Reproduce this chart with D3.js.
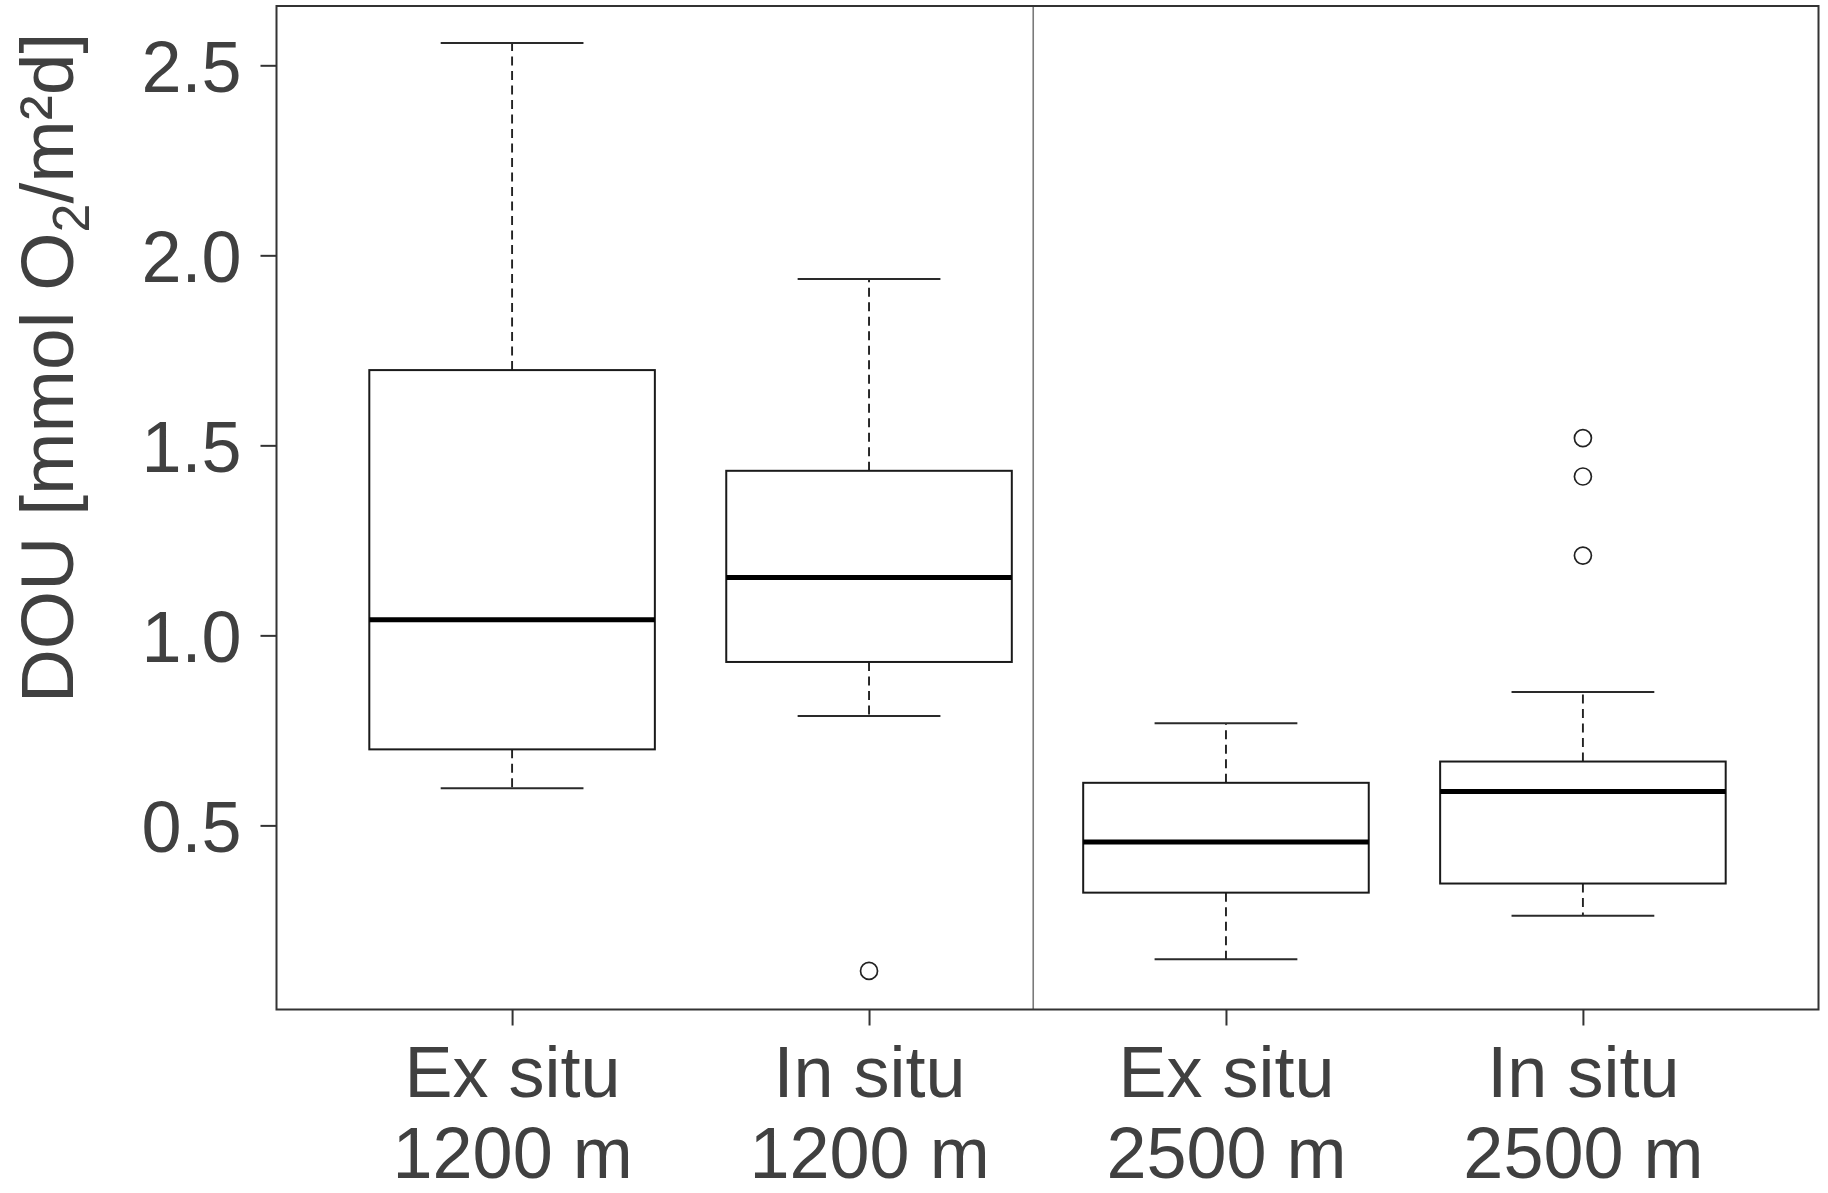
<!DOCTYPE html>
<html>
<head>
<meta charset="utf-8">
<script src="https://cdn.jsdelivr.net/npm/d3@7"></script>
<style>
  html, body { margin: 0; padding: 0; background: #fff; }
  svg { display: block; }
  text { font-family: "Liberation Sans", Arial, Helvetica, sans-serif; fill: #404040; }
</style>
</head>
<body>
<svg id="chart" width="1828" height="1193"></svg>
<script>
// Groups: site depth and measurement method
const methods = ["Ex situ", "In situ", "Ex situ", "In situ"];
const depths = ["1200 m", "1200 m", "2500 m", "2500 m"];

// Five-number summaries per group (mmol O2 / m² / d)
const whiskerLow = [0.598, 0.788, 0.148, 0.262];
const quart1     = [0.700, 0.930, 0.323, 0.347];
const medians    = [1.041, 1.152, 0.456, 0.589];
const quart3     = [1.698, 1.433, 0.612, 0.668];
const whiskerHigh= [2.559, 1.938, 0.769, 0.851];

// Points beyond the whiskers, by group
const outliers = [[], [0.117], [], [1.519, 1.418, 1.210]];

const yTicks = [0.5, 1.0, 1.5, 2.0, 2.5];

const svg = d3.select("#chart");

const frame = { left: 276.5, right: 1818.5, top: 6, bottom: 1009.5 };

// x: group positions 1..4 with a small margin on either side
const x = d3.scaleLinear().domain([0.34, 4.66]).range([frame.left, frame.right]);
// y: value axis
const y = d3.scaleLinear().domain([0, 2.5]).range([1015.4, 65.3]);

const boxHalf = x(1.4) - x(1);   // half of a 0.8-wide box
const capHalf = boxHalf / 2;

const groups = methods.map((m, i) => ({
  i, pos: i + 1,
  lo: whiskerLow[i], q1: quart1[i], med: medians[i], q3: quart3[i], hi: whiskerHigh[i],
  out: outliers[i]
}));

// Separator between the two depths
svg.append("line")
  .attr("x1", x(2.46)).attr("x2", x(2.46))
  .attr("y1", frame.top).attr("y2", frame.bottom)
  .attr("stroke", "#7a7a7a").attr("stroke-width", 1.6);

const g = svg.append("g").selectAll("g").data(groups).join("g");

// Whiskers (dashed) from box edges to the whisker ends
g.append("line")
  .attr("x1", d => x(d.pos)).attr("x2", d => x(d.pos))
  .attr("y1", d => y(d.q3)).attr("y2", d => y(d.hi))
  .attr("stroke", "#222").attr("stroke-width", 1.9)
  .attr("stroke-dasharray", "9,5.5");
g.append("line")
  .attr("x1", d => x(d.pos)).attr("x2", d => x(d.pos))
  .attr("y1", d => y(d.q1)).attr("y2", d => y(d.lo))
  .attr("stroke", "#222").attr("stroke-width", 1.9)
  .attr("stroke-dasharray", "9,5.5");

// Whisker caps
["hi", "lo"].forEach(k => {
  g.append("line")
    .attr("x1", d => x(d.pos) - capHalf).attr("x2", d => x(d.pos) + capHalf)
    .attr("y1", d => y(d[k])).attr("y2", d => y(d[k]))
    .attr("stroke", "#2a2a2a").attr("stroke-width", 2);
});

// Boxes
g.append("rect")
  .attr("x", d => x(d.pos) - boxHalf)
  .attr("width", 2 * boxHalf)
  .attr("y", d => y(d.q3))
  .attr("height", d => y(d.q1) - y(d.q3))
  .attr("fill", "#fff")
  .attr("stroke", "#1a1a1a").attr("stroke-width", 2);

// Medians
g.append("line")
  .attr("x1", d => x(d.pos) - boxHalf).attr("x2", d => x(d.pos) + boxHalf)
  .attr("y1", d => y(d.med)).attr("y2", d => y(d.med))
  .attr("stroke", "#000").attr("stroke-width", 5);

// Outliers
g.selectAll("circle")
  .data(d => d.out.map(v => ({ pos: d.pos, v })))
  .join("circle")
  .attr("cx", d => x(d.pos)).attr("cy", d => y(d.v))
  .attr("r", 8.5)
  .attr("fill", "none").attr("stroke", "#222").attr("stroke-width", 1.7);

// Plot frame
svg.append("rect")
  .attr("x", frame.left).attr("y", frame.top)
  .attr("width", frame.right - frame.left).attr("height", frame.bottom - frame.top)
  .attr("fill", "none").attr("stroke", "#333").attr("stroke-width", 2);

// Y axis
const yAxis = svg.append("g")
  .attr("transform", `translate(${frame.left},0)`)
  .call(d3.axisLeft(y).tickValues(yTicks).tickFormat(d3.format(".1f")).tickSize(16).tickPadding(19));
yAxis.select(".domain").remove();
yAxis.selectAll(".tick line").attr("stroke", "#333").attr("stroke-width", 2);
yAxis.selectAll(".tick text")
  .attr("font-size", 72).attr("fill", "#404040")
  .attr("font-family", "'Liberation Sans', Arial, sans-serif")
  .attr("dy", "0.36em");

// X axis with two-line group labels
const xAxis = svg.append("g")
  .attr("transform", `translate(0,${frame.bottom})`)
  .call(d3.axisBottom(x).tickValues([1, 2, 3, 4]).tickSize(16).tickFormat(""));
xAxis.select(".domain").remove();
xAxis.selectAll(".tick line").attr("stroke", "#333").attr("stroke-width", 2);
xAxis.selectAll(".tick").each(function(d) {
  const t = d3.select(this).append("text")
    .attr("text-anchor", "middle")
    .attr("font-size", 72)
    .attr("fill", "#404040")
    .attr("font-family", "'Liberation Sans', Arial, sans-serif");
  t.append("tspan").attr("x", 0).attr("y", 87).text(methods[d - 1]);
  t.append("tspan").attr("x", 0).attr("y", 168).text(depths[d - 1]);
});

// Y axis title
const yt = svg.append("text")
  .attr("transform", "translate(73,368) rotate(-90)")
  .attr("text-anchor", "middle")
  .attr("font-size", 75);
yt.append("tspan").text("DOU [mmol O");
yt.append("tspan").attr("font-size", 52).attr("dy", 16).text("2");
yt.append("tspan").attr("dy", -16).text("/m²d]");
</script>
</body>
</html>
